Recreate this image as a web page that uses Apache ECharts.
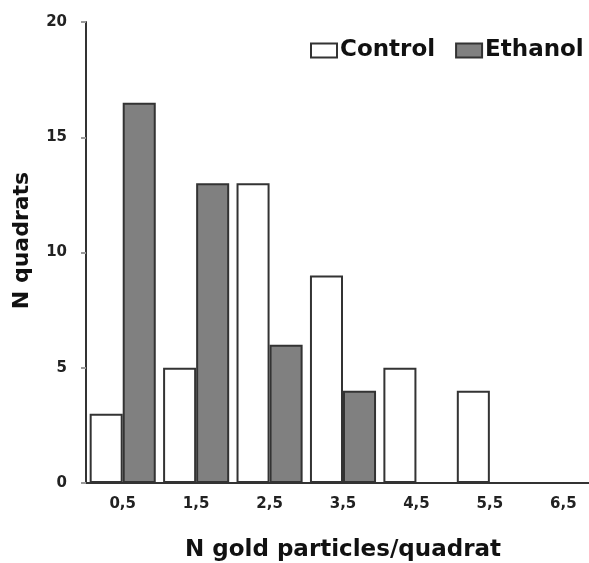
<!DOCTYPE html>
<html><head><meta charset="utf-8">
<script src="https://cdn.jsdelivr.net/npm/echarts@6/dist/echarts.min.js"></script>
<style>html,body{margin:0;padding:0;background:#fff}#c{width:589px;height:563px}</style>
</head><body><div id="c"></div>
<script>
const categories = ['0,5','1,5','2,5','3,5','4,5','5,5','6,5'];
const control = [3, 5, 13, 9, 5, 4, 0];
const ethanol = [16.5, 13, 6, 4, 0, 0, 0];
const yTicks = [0, 5, 10, 15, 20];

const font = '"DejaVu Sans", sans-serif';
const chart = echarts.init(document.getElementById('c'));
chart.setOption({
  animation: false,
  grid: {left: 86, width: 514, top: 22, bottom: 80, outerBoundsMode: 'none', containLabel: false},
  legend: {
    left: 305, top: 34, itemWidth: 26, itemHeight: 14, itemGap: 20, icon: 'rect',
    textStyle: {fontFamily: font, fontWeight: 'bold', fontSize: 23, color: '#111', padding: [0,0,0,-2]},
    data: ['Control', 'Ethanol']
  },
  xAxis: {
    type: 'category', data: categories,
    name: 'N gold particles/quadrat', nameLocation: 'middle', nameGap: 56,
    nameTextStyle: {fontFamily: font, fontWeight: 'bold', fontSize: 23, color: '#111'},
    axisLine: {lineStyle: {color: '#333', width: 2}},
    axisTick: {alignWithLabel: true, length: 5, lineStyle: {color: '#999', width: 2}},
    axisLabel: {fontFamily: font, fontWeight: 'bold', fontSize: 15, color: '#222', margin: 14}
  },
  yAxis: {
    type: 'value', min: 0, max: 20, interval: 5,
    name: 'N quadrats', nameLocation: 'middle', nameGap: 53, nameRotate: 90,
    nameTextStyle: {fontFamily: font, fontWeight: 'bold', fontSize: 22, color: '#111', padding: [0,0,0,24]},
    axisLine: {show: true, lineStyle: {color: '#333', width: 2}},
    axisTick: {show: true, length: 5, lineStyle: {color: '#999', width: 2}},
    splitLine: {show: false},
    axisLabel: {fontFamily: font, fontWeight: 'bold', fontSize: 15, color: '#222', margin: 19,
      formatter: v => yTicks.includes(v) ? String(v) : ''}
  },
  series: [
    {name: 'Control', type: 'bar', data: control, barGap: '0%', barCategoryGap: '10%',
     itemStyle: {color: '#fff', borderColor: '#333', borderWidth: 2}},
    {name: 'Ethanol', type: 'bar', data: ethanol,
     itemStyle: {color: '#808080', borderColor: '#333', borderWidth: 2}}
  ]
});
</script></body></html>
